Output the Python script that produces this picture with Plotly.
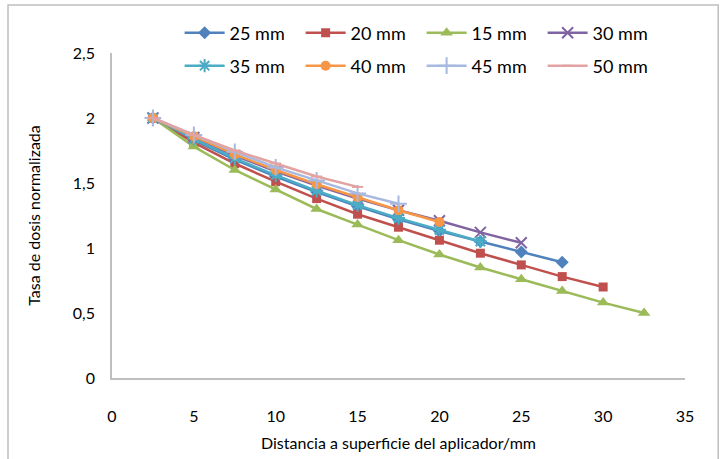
import plotly.graph_objects as go

x_all = [2.5, 5, 7.5, 10, 12.5, 15, 17.5, 20, 22.5, 25, 27.5, 30, 32.5]

names = ["25 mm", "20 mm", "15 mm", "30 mm", "35 mm", "40 mm", "45 mm", "50 mm"]
y_25 = [2.0, 1.83, 1.68, 1.55, 1.43, 1.32, 1.22, 1.13, 1.05, 0.97, 0.89]
y_20 = [2.0, 1.81, 1.65, 1.51, 1.38, 1.26, 1.16, 1.06, 0.96, 0.87, 0.78, 0.70]
y_15 = [2.0, 1.78, 1.60, 1.45, 1.30, 1.18, 1.06, 0.95, 0.85, 0.76, 0.67, 0.58, 0.50]
y_30 = [2.0, 1.85, 1.71, 1.59, 1.48, 1.38, 1.29, 1.21, 1.12, 1.04]
y_35 = [2.0, 1.84, 1.69, 1.56, 1.44, 1.33, 1.23, 1.14, 1.05]
y_40 = [2.0, 1.86, 1.72, 1.60, 1.49, 1.39, 1.29, 1.20]
y_45 = [2.0, 1.87, 1.74, 1.62, 1.52, 1.42, 1.34]
y_50 = [2.0, 1.87, 1.75, 1.65, 1.55, 1.47]
series = [y_25, y_20, y_15, y_30, y_35, y_40, y_45, y_50]

colors = ["#4F81BD", "#C0504D", "#9BBB59", "#8064A2", "#4BACC6", "#F79646", "#A7B9E0", "#E3A3A2"]
symbols = ["diamond", "square", "triangle-up", "x-thin-open", "asterisk-open", "circle", "cross-thin-open", "line-ew-open"]
sizes = [10, 9, 11, 11, 11, 10, 12, 8]

fig = go.Figure()
for i, (name, ys, c, s, sz) in enumerate(zip(names, series, colors, symbols, sizes)):
    open_sym = s.endswith("open")
    fig.add_trace(go.Scatter(
        x=x_all[:len(ys)], y=ys, name=name, mode="lines+markers",
        line=dict(color=c, width=2.5),
        marker=dict(symbol=s, size=sz, color=c,
                    line=dict(color=c, width=2 if open_sym else 0)),
        legend="legend" if i < 4 else "legend2",
    ))

font = "Lato, 'Open Sans', sans-serif"
leg = dict(orientation="h", x=0.118, xanchor="left", yanchor="middle",
           entrywidth=66, entrywidthmode="pixels",
           font=dict(size=18), tracegroupgap=0, itemwidth=40,
           bgcolor="rgba(0,0,0,0)")
fig.update_layout(
    width=722, height=459,
    margin=dict(l=112, r=37, t=53, b=81, autoexpand=False),
    paper_bgcolor="white", plot_bgcolor="white",
    separators=", ",
    font=dict(family=font, size=16, color="#000000"),
    legend=dict(leg, y=1.0615),
    legend2=dict(leg, y=0.96),
    xaxis=dict(range=[0, 35], dtick=5, showgrid=False, zeroline=False,
               showline=True, linecolor="#BFBFBF", linewidth=1.5,
               ticks="", ticklabelstandoff=23,
               title=dict(text="Distancia a superficie del aplicador/mm", standoff=14,
                          font=dict(size=16))),
    yaxis=dict(range=[0, 2.5], dtick=0.5, showgrid=False, zeroline=False,
               showline=True, linecolor="#BFBFBF", linewidth=1.5,
               ticks="", tickformat=".1~f", ticklabelstandoff=12,
               title=dict(text="Tasa de dosis normalizada", standoff=28,
                          font=dict(size=16))),
    shapes=[dict(type="rect", xref="paper", yref="paper",
                 x0=-0.1815, x1=1.058, y0=-0.4, y1=1.1477,
                 line=dict(color="#BFBFBF", width=1.5), fillcolor="rgba(0,0,0,0)", layer="below")],
)
fig.write_html("out.html")
